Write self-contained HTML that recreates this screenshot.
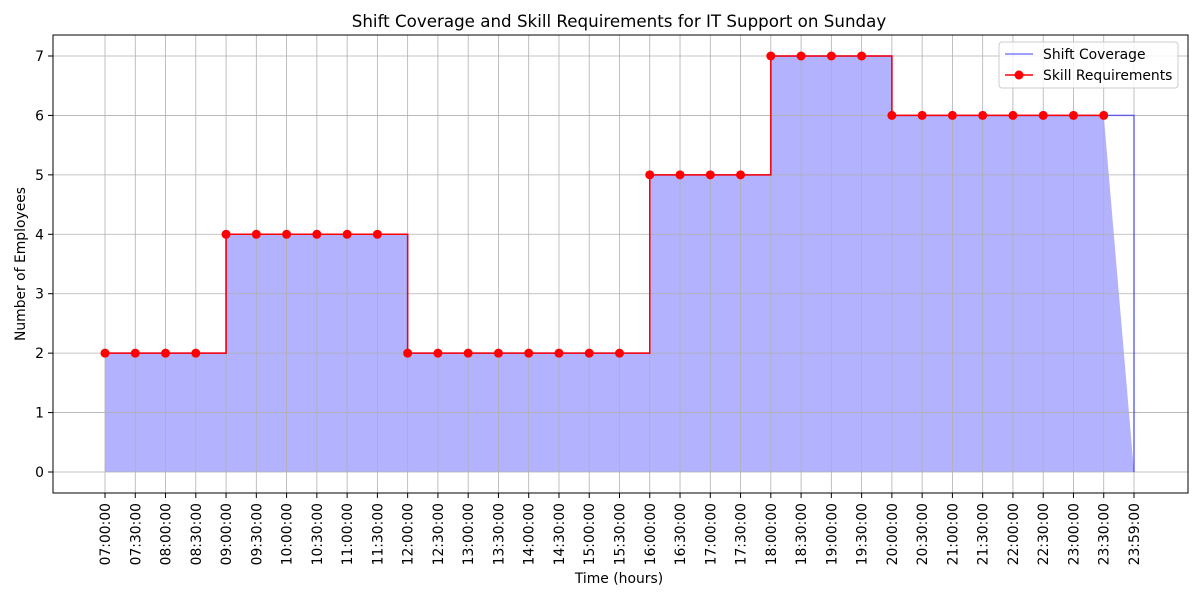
<!DOCTYPE html>
<html><head><meta charset="utf-8"><style>
body{margin:0;background:#fff}
text{font-family:"DejaVu Sans","Liberation Sans",sans-serif;fill:#000}
</style></head><body>
<svg id="chart" width="1200" height="600" xmlns="http://www.w3.org/2000/svg">
<rect width="1200" height="600" fill="#fff"/>
<text x="619" y="27" font-size="16.7" text-anchor="middle">Shift Coverage and Skill Requirements for IT Support on Sunday</text>
<g id="fill"></g>
<g id="grid"></g>
<g id="lines"></g>
<g id="axes"></g>
<rect x="53" y="35" width="1135" height="458" fill="none" stroke="#000" stroke-width="1"/>
<text x="619" y="583" font-size="13.9" text-anchor="middle">Time (hours)</text>
<text transform="translate(25,264) rotate(-90)" font-size="13.9" text-anchor="middle">Number of Employees</text>
<g>
<rect x="999" y="42" width="179" height="46" rx="3" fill="#fff" fill-opacity="0.8" stroke="#ccc"/>
<g>
<line x1="1005" y1="54" x2="1033" y2="54" stroke="#0000ff" stroke-opacity="0.5" stroke-width="1.5"/>
<text x="1043" y="59" font-size="13.9">Shift Coverage</text></g>
<g>
<line x1="1005" y1="75" x2="1033" y2="75" stroke="#ff0000" stroke-width="1.5"/>
<circle cx="1019" cy="75" r="4.5" fill="#ff0000"/>
<text x="1043" y="80" font-size="13.9">Skill Requirements</text></g>
</g>
</svg>
<script>
const timeLabels=["07:00:00","07:30:00","08:00:00","08:30:00","09:00:00","09:30:00","10:00:00","10:30:00","11:00:00","11:30:00","12:00:00","12:30:00","13:00:00","13:30:00","14:00:00","14:30:00","15:00:00","15:30:00","16:00:00","16:30:00","17:00:00","17:30:00","18:00:00","18:30:00","19:00:00","19:30:00","20:00:00","20:30:00","21:00:00","21:30:00","22:00:00","22:30:00","23:00:00","23:30:00","23:59:00"];
const coverage=[2,2,2,2,4,4,4,4,4,4,2,2,2,2,2,2,2,2,5,5,5,5,7,7,7,7,6,6,6,6,6,6,6,6,0];
const requirements=[2,2,2,2,4,4,4,4,4,4,2,2,2,2,2,2,2,2,5,5,5,5,7,7,7,7,6,6,6,6,6,6,6,6];
const yTicks=[0,1,2,3,4,5,6,7];
const NS="http://www.w3.org/2000/svg";
const xS=i=>105+i*(1134-105)/(timeLabels.length-1);
const yS=v=>472-v*(472-56)/7;
function mk(t,a,p){const e=document.createElementNS(NS,t);for(const k in a)e.setAttribute(k,a[k]);p.appendChild(e);return e;}
const grid=document.getElementById('grid'),axes=document.getElementById('axes'),fillG=document.getElementById('fill'),lines=document.getElementById('lines');
timeLabels.forEach((l,i)=>{
 const x=xS(i);
 const g=mk('line',{x1:x,x2:x,y1:35,y2:493,stroke:'#b0b0b0','stroke-width':0.8},grid);
 
 
 mk('line',{x1:x,x2:x,y1:493,y2:498,stroke:'#000'},axes);
 const t=mk('text',{transform:`translate(${x+5},503) rotate(-90)`,'font-size':13.9,'text-anchor':'end'},axes);
 t.textContent=l;
 
 
});
yTicks.forEach(v=>{
 const y=yS(v);
 const g=mk('line',{x1:53,x2:1188,y1:y,y2:y,stroke:'#b0b0b0','stroke-width':0.8},grid);
 
 
 mk('line',{x1:48,x2:53,y1:y,y2:y,stroke:'#000'},axes);
 const t=mk('text',{x:44,y:y+5,'font-size':13.9,'text-anchor':'end'},axes);
 t.textContent=v;
 
 
});
const n=coverage.length;
let d=`M${xS(0)},${yS(0)} L${xS(0)},${yS(coverage[0])}`;
for(let i=1;i<n-1;i++){d+=` L${xS(i)},${yS(coverage[i-1])} L${xS(i)},${yS(coverage[i])}`;}
d+=` L${xS(n-1)},${yS(coverage[n-1])} Z`;
const f=mk('path',{d:d,fill:'#0000ff','fill-opacity':0.3},fillG);


let dl=`M${xS(0)},${yS(coverage[0])}`;
for(let i=1;i<n;i++){dl+=` L${xS(i)},${yS(coverage[i-1])} L${xS(i)},${yS(coverage[i])}`;}
const cl=mk('path',{d:dl,fill:'none',stroke:'#0000ff','stroke-opacity':0.5,'stroke-width':1.5},lines);


let dr=`M${xS(0)},${yS(requirements[0])}`;
for(let i=1;i<requirements.length;i++){dr+=` L${xS(i)},${yS(requirements[i-1])} L${xS(i)},${yS(requirements[i])}`;}
const rl=mk('path',{d:dr,fill:'none',stroke:'#ff0000','stroke-width':1.5},lines);


requirements.forEach((v,i)=>{
 const c=mk('circle',{cx:xS(i),cy:yS(v),r:4.5,fill:'#ff0000'},lines);
 
 
});
</script>
</body></html>
